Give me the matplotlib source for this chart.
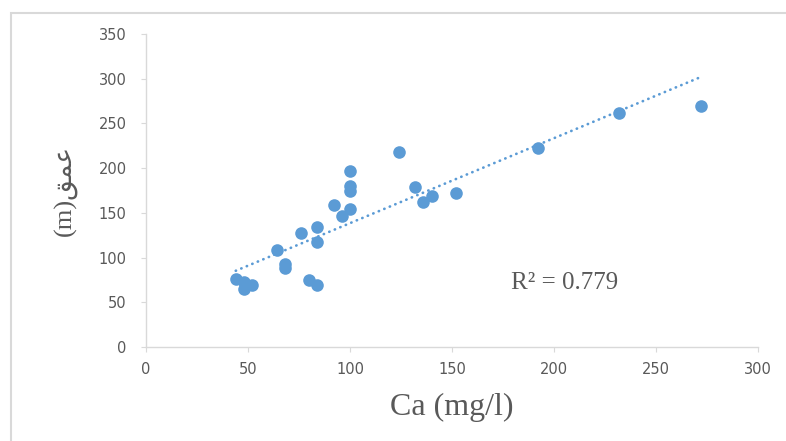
import numpy as np
import matplotlib
matplotlib.use('Agg')
from matplotlib import pyplot as plt
from matplotlib.patches import Rectangle

# Ca (mg/l) against depth (m)
ca = [44, 48, 48, 52, 64, 68, 68, 76, 80, 84, 84, 84, 92, 96, 100, 100, 100, 100,
      124, 132, 136, 140, 152, 192, 232, 272]
depth = [76, 73, 65, 69, 109, 93, 88, 127, 75, 69, 134, 117, 159, 146, 154, 197, 180, 174,
         218, 179, 162, 169, 172, 223, 262, 270]
r2_label = 'R\u00b2 = 0.779'
x_ticks = [0, 50, 100, 150, 200, 250, 300]
y_ticks = [0, 50, 100, 150, 200, 250, 300, 350]

blue = '#5b9bd5'
grey_txt = '#595959'
grey_line = '#d9d9d9'

fig = plt.figure(figsize=(7.86, 4.41), dpi=100)
fig.patch.set_facecolor('white')
# chart frame, cut off on the right and bottom like the screenshot
fig.patches.append(Rectangle((11 / 786, -0.1), 1.2, 1 - 13 / 441 + 0.1,
                             transform=fig.transFigure, fill=False,
                             edgecolor=grey_line, linewidth=1.5))

ax = fig.add_axes([146 / 786, 1 - 347 / 441, 612 / 786, 313 / 441])
ax.scatter(ca, depth, s=82, color=blue, zorder=3, linewidths=0)

# linear trend line
k, b = np.polyfit(ca, depth, 1)
xs = np.array([min(ca), max(ca)])
ax.plot(xs, k * xs + b, color=blue, linewidth=1.95, linestyle=(0, (0.1, 2.1)),
        dash_capstyle='round', zorder=2)

ax.set_xlim(0, 300)
ax.set_ylim(0, 350)
ax.set_xticks(x_ticks)
ax.set_yticks(y_ticks)
for s in ['top', 'right']:
    ax.spines[s].set_visible(False)
for s in ['left', 'bottom']:
    ax.spines[s].set_color(grey_line)
    ax.spines[s].set_linewidth(1)
ax.tick_params(direction='out', length=3.5, color=grey_line, labelcolor=grey_txt,
               labelsize=10.5)
ax.tick_params(axis='y', pad=10.5)
ax.tick_params(axis='x', pad=7)
for lab in ax.get_xticklabels() + ax.get_yticklabels():
    lab.set_family('DejaVu Sans')

ax.text(179, 72, r2_label, fontsize=18, color=grey_txt, family='Liberation Serif',
        ha='left', va='center')

fig.text(452 / 786, 1 - 407 / 441, 'Ca (mg/l)', fontsize=23, color=grey_txt,
         family='Liberation Serif', ha='center', va='center')
fig.text(66 / 786, 1 - 190 / 441, '(m)\ufed6\ufee4\ufecb', fontsize=19, color=grey_txt,
         family=['Liberation Serif', 'DejaVu Sans'], rotation=90,
         ha='center', va='center')

fig.savefig('out.png', dpi=100)
